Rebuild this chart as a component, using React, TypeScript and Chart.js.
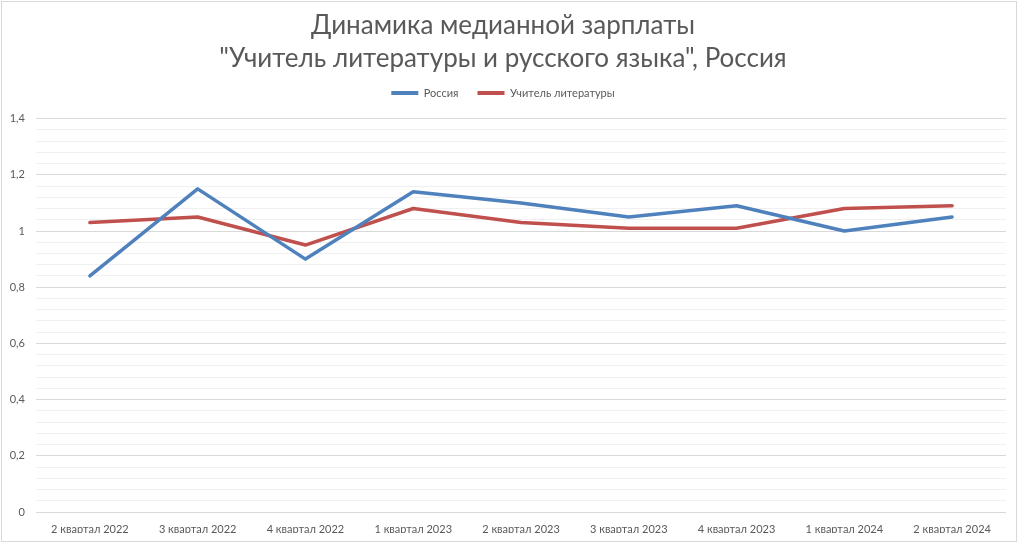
import React, { useEffect, useRef } from "react";
import { Chart, registerables } from "chart.js";

Chart.register(...registerables);

const categories = [
  "2 квартал 2022",
  "3 квартал 2022",
  "4 квартал 2022",
  "1 квартал 2023",
  "2 квартал 2023",
  "3 квартал 2023",
  "4 квартал 2023",
  "1 квартал 2024",
  "2 квартал 2024",
];
const russia = [0.84, 1.15, 0.9, 1.14, 1.1, 1.05, 1.09, 1.0, 1.05];
const teacher = [1.03, 1.05, 0.95, 1.08, 1.03, 1.01, 1.01, 1.08, 1.09];
const titleLines = ["Динамика медианной зарплаты", "\"Учитель литературы и русского языка\", Россия"];
const yMin = 0;
const yMax = 1.4;
const yMinorStep = 0.04;
const yMajorStep = 0.2;

const isMajor = (v: number) => Math.abs(v / yMajorStep - Math.round(v / yMajorStep)) < 1e-6;
const fmt = (v: number) => String(Math.round(v * 10) / 10).replace(".", ",");

export default function App() {
  const ref = useRef<HTMLCanvasElement | null>(null);
  useEffect(() => {
    document.body.style.margin = "0";
    const ctx = ref.current!;
    const chart = new Chart(ctx, {
      type: "line",
      data: {
        labels: categories,
        datasets: [
          {
            label: "Россия",
            data: russia,
            borderColor: "#4f81bd",
            backgroundColor: "#4f81bd",
            borderWidth: 3.5,
            pointRadius: 0,
            tension: 0,
            borderCapStyle: "round",
            borderJoinStyle: "round",
          },
          {
            label: "Учитель литературы",
            data: teacher,
            borderColor: "#c0504d",
            backgroundColor: "#c0504d",
            borderWidth: 3.5,
            pointRadius: 0,
            tension: 0,
            borderCapStyle: "round",
            borderJoinStyle: "round",
          },
        ],
      },
      options: {
        responsive: false,
        animation: false,
        layout: { padding: { left: 0, right: 18, top: 0, bottom: 12 } },
        plugins: {
          tooltip: { enabled: false },
          title: {
            display: true,
            text: titleLines,
            color: "#595959",
            font: { family: "Lato", size: 26, weight: "normal", lineHeight: 1.25 },
            padding: { top: 9.6, bottom: -6 },
          },
          legend: {
            display: true,
            position: "top",
            labels: {
              color: "#595959",
              font: { family: "Lato", size: 11 },
              boxWidth: 27,
              boxHeight: 4,
              useBorderRadius: true,
              borderRadius: 2,
              padding: 19,
              generateLabels: (c: any) =>
                c.data.datasets.map((d: any, i: number) => ({
                  text: d.label,
                  fillStyle: d.borderColor,
                  strokeStyle: d.borderColor,
                  lineWidth: 0,
                  fontColor: "#595959",
                  datasetIndex: i,
                  hidden: false,
                })),
            },
          },
        },
        scales: {
          x: {
            offset: true,
            grid: { display: false },
            border: { display: false },
            ticks: {
              color: "#595959",
              font: { family: "Lato", size: 11 },
              maxRotation: 0,
              autoSkip: false,
              padding: 3,
            },
            afterFit: (s: any) => {
              s.height = 21;
            },
          },
          y: {
            min: yMin,
            max: yMax,
            border: { display: false },
            grid: {
              drawTicks: false,
              color: (c: any) => (c.tick && isMajor(c.tick.value) ? "#d9d9d9" : "#f0f0f0"),
              lineWidth: 1,
            },
            ticks: {
              stepSize: yMinorStep,
              autoSkip: false,
              color: "#595959",
              font: { family: "Lato", size: 11 },
              padding: 11,
              callback: (v: any) => (isMajor(Number(v)) ? fmt(Number(v)) : ""),
            },
            afterFit: (s: any) => {
              s.width = 36;
            },
          },
        },
      },
    });
    const lg: any = (chart as any).legend;
    if (lg) {
      const origFit = lg.fit.bind(lg);
      lg.fit = function () {
        origFit();
        this.height += 10;
      };
      chart.update();
    }
    return () => chart.destroy();
  }, []);
  return (
    <div style={{ position: "absolute", left: 0, top: 0, width: 1024, height: 545, background: "#fff" }}>
      <canvas ref={ref} width={1024} height={545} style={{ position: "absolute", left: 0, top: 0 }} />
      <div
        style={{
          position: "absolute",
          left: 1,
          top: 1,
          width: 1014,
          height: 539,
          border: "1px solid #d9d9d9",
          pointerEvents: "none",
        }}
      />
    </div>
  );
}
